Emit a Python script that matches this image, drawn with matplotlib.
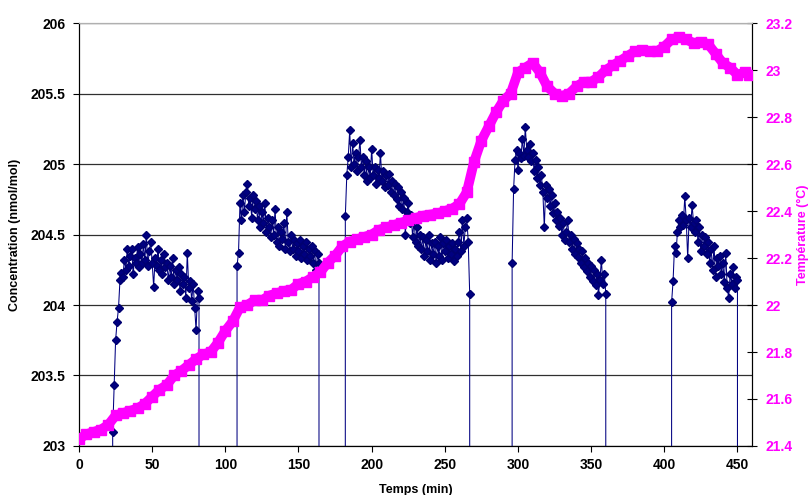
import matplotlib.pyplot as plt
from matplotlib.ticker import FuncFormatter

plt.rcParams['font.family'] = ['Liberation Sans', 'DejaVu Sans']
plt.rcParams['font.weight'] = 'bold'

# Concentration runs, one reading per minute starting at the given minute
run_starts = [23, 108, 182, 296, 405]

conc_run1 = [203.10, 203.43, 203.75, 203.88, 203.98, 204.18, 204.23, 204.20, 204.32, 204.25,
             204.40, 204.28, 204.35, 204.40, 204.22, 204.33, 204.30, 204.41, 204.27, 204.36,
             204.30, 204.43, 204.32, 204.50, 204.28, 204.38, 204.45, 204.30, 204.13, 204.33,
             204.28, 204.40, 204.25, 204.32, 204.22, 204.36, 204.27, 204.30, 204.18, 204.28,
             204.20, 204.33, 204.15, 204.25, 204.18, 204.27, 204.10, 204.22, 204.15, 204.20,
             204.05, 204.37, 204.12, 204.17, 204.03, 204.15, 203.98, 203.82, 204.10, 204.05]

conc_run2 = [204.28, 204.37, 204.72, 204.60, 204.78, 204.66, 204.80, 204.86, 204.70, 204.76,
             204.62, 204.78, 204.68, 204.74, 204.60, 204.70, 204.55, 204.66, 204.58, 204.72,
             204.52, 204.62, 204.55, 204.48, 204.60, 204.50, 204.68, 204.45, 204.55, 204.42,
             204.52, 204.47, 204.58, 204.40, 204.66, 204.45, 204.38, 204.50, 204.40, 204.46,
             204.35, 204.44, 204.38, 204.46, 204.33, 204.42, 204.36, 204.45, 204.32, 204.40,
             204.35, 204.42, 204.30, 204.38, 204.25, 204.36, 204.30]

conc_run3 = [204.63, 204.92, 205.05, 205.24, 204.98, 205.15, 205.00, 205.08, 204.95, 205.05,
             205.17, 204.98, 205.05, 204.92, 205.02, 204.88, 204.98, 204.90, 205.11, 204.92,
             204.98, 204.86, 204.96, 204.90, 205.08, 204.88, 204.95, 204.84, 204.92, 204.85,
             204.93, 204.80, 204.88, 204.78, 204.86, 204.75, 204.84, 204.70, 204.80, 204.68,
             204.76, 204.50, 204.66, 204.72, 204.58, 204.64, 204.48, 204.60, 204.45, 204.55,
             204.42, 204.50, 204.40, 204.48, 204.35, 204.46, 204.38, 204.50, 204.32, 204.44,
             204.36, 204.45, 204.30, 204.42, 204.35, 204.48, 204.32, 204.44, 204.38, 204.46,
             204.33, 204.42, 204.36, 204.44, 204.31, 204.40, 204.35, 204.45, 204.52, 204.38,
             204.60, 204.42, 204.55, 204.62, 204.45, 204.08]

conc_run4 = [204.30, 204.82, 205.03, 205.10, 204.96, 205.08, 205.04, 205.18, 205.06, 205.26,
             205.10, 205.05, 205.14, 205.02, 205.08, 204.95, 205.03, 204.90, 204.98, 204.85,
             204.92, 204.80, 204.55, 204.85, 204.76, 204.82, 204.70, 204.78, 204.65, 204.72,
             204.60, 204.66, 204.56, 204.62, 204.50, 204.58, 204.46, 204.52, 204.60, 204.45,
             204.50, 204.40, 204.47, 204.36, 204.44, 204.34, 204.40, 204.30, 204.38, 204.27,
             204.33, 204.24, 204.30, 204.20, 204.28, 204.17, 204.25, 204.14, 204.22, 204.07,
             204.18, 204.32, 204.15, 204.22, 204.08]

conc_run5 = [204.02, 204.17, 204.42, 204.37, 204.52, 204.60, 204.55, 204.64, 204.57, 204.77,
             204.60, 204.33, 204.62, 204.55, 204.71, 204.58, 204.52, 204.60, 204.45, 204.55,
             204.38, 204.50, 204.42, 204.48, 204.36, 204.45, 204.30, 204.40, 204.25, 204.42,
             204.20, 204.33, 204.28, 204.35, 204.22, 204.30, 204.16, 204.37, 204.12, 204.05,
             204.22, 204.15, 204.27, 204.12, 204.20, 204.18]

conc_runs = [conc_run1, conc_run2, conc_run3, conc_run4, conc_run5]

# Temperature, every 5 minutes
temp_minutes = list(range(0, 460, 5)) + [458]
temp_values = [21.43, 21.45, 21.46, 21.47, 21.49, 21.53, 21.54, 21.55, 21.56, 21.58,
               21.61, 21.64, 21.66, 21.70, 21.72, 21.745, 21.77, 21.79, 21.80, 21.84,
               21.89, 21.93, 21.99, 22.00, 22.02, 22.02, 22.04, 22.05, 22.06, 22.065,
               22.09, 22.10, 22.12, 22.14, 22.18, 22.21, 22.25, 22.27, 22.28, 22.29,
               22.30, 22.32, 22.33, 22.34, 22.35, 22.36, 22.37, 22.38, 22.385, 22.39,
               22.40, 22.41, 22.43, 22.48, 22.61, 22.70, 22.76, 22.82, 22.87, 22.90,
               22.99, 23.01, 23.03, 22.99, 22.93, 22.90, 22.89, 22.90, 22.93, 22.95,
               22.95, 22.97, 23.00, 23.02, 23.04, 23.06, 23.08, 23.085, 23.08, 23.08,
               23.10, 23.13, 23.14, 23.13, 23.115, 23.12, 23.11, 23.07, 23.03, 23.01,
               22.98, 22.99, 22.98]

# missing readings between runs were logged as 0, so the line drops off the axis
conc_t, conc_v = [], []
for start, run in zip(run_starts, conc_runs):
    conc_t.append(start - 1)
    conc_v.append(0.0)
    conc_t.extend(range(start, start + len(run)))
    conc_v.extend(run)
    conc_t.append(start + len(run))
    conc_v.append(0.0)

fig = plt.figure(figsize=(8.08, 4.95), dpi=100)
ax = fig.add_axes([0.0978, 0.099, 0.833, 0.8545])
ax2 = ax.twinx()

ax.plot(conc_t, conc_v, color='#000080', lw=0.75, marker='D', ms=4.5,
        mec='#000070', mfc='#000080', zorder=3)
ax2.plot(temp_minutes, temp_values, color='#ff00ff', lw=7, marker='s', ms=7,
         solid_capstyle='butt', zorder=3)

ax.set_xlim(0, 460)
ax.set_ylim(203, 206)
ax2.set_ylim(21.4, 23.2)

ax.set_xticks(range(0, 451, 50))
ax.set_yticks([203, 203.5, 204, 204.5, 205, 205.5, 206])
ax2.set_yticks([21.4, 21.6, 21.8, 22.0, 22.2, 22.4, 22.6, 22.8, 23.0, 23.2])
ax.yaxis.set_major_formatter(FuncFormatter(lambda v, p: f'{v:g}'))
ax2.yaxis.set_major_formatter(FuncFormatter(lambda v, p: f'{round(v, 1):g}'))

ax.grid(axis='y', color='#303030', lw=0.9)
ax.set_axisbelow(True)

for a in (ax, ax2):
    a.spines['top'].set_color('#b0b0b0')
    a.spines['left'].set_color('black')
    a.spines['bottom'].set_color('black')
    a.spines['right'].set_color('black')

ax.tick_params(axis='x', direction='out', length=4, width=0.8, labelsize=10, pad=5)
ax.tick_params(axis='y', direction='out', length=4, width=0.8, labelsize=10, pad=6)
ax2.tick_params(axis='y', direction='inout', length=7, width=0.8, labelsize=10,
                labelcolor='#ff00ff', pad=6)

ax.set_ylabel('Concentration (nmol/mol)', fontsize=9, fontweight='bold', labelpad=7)
ax2.set_ylabel('Température (°C)', fontsize=9, fontweight='bold', color='#ff00ff',
               labelpad=3)
ax.set_xlabel('Temps (min)', fontsize=9, fontweight='bold', labelpad=8)

plt.savefig('out.png', dpi=100)
